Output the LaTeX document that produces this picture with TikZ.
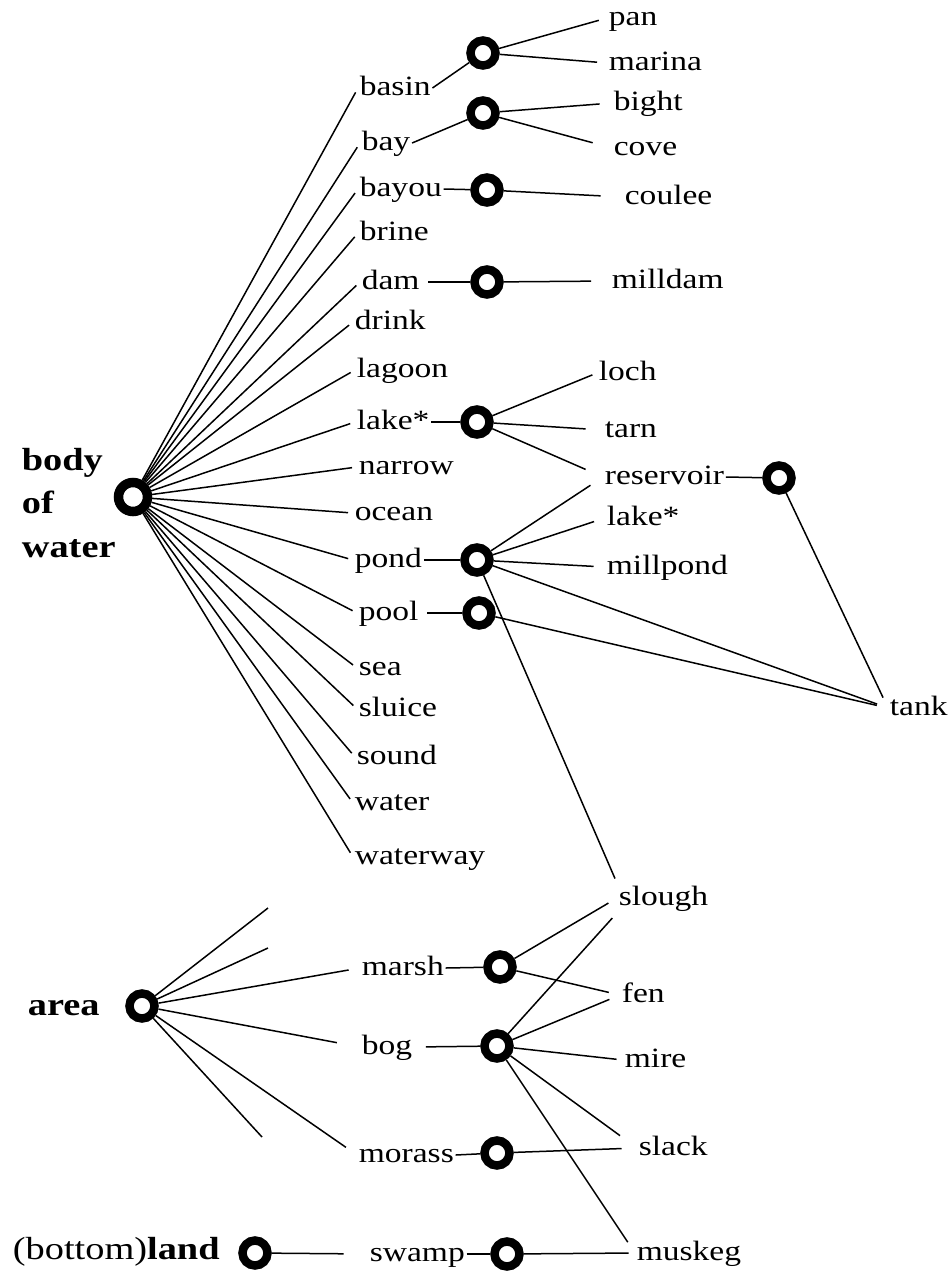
\documentclass[tikz,border=0pt]{standalone}
\usepackage{fontspec}
\setmainfont{Liberation Serif}[FakeStretch=1.2]
\begin{document}
\begin{tikzpicture}[x=0.02cm,y=-0.02cm,
    word/.style={anchor=west,inner sep=0.03cm,text height=0.4cm,text depth=0.12cm,font=\fontsize{15.9}{19}\selectfont},
    title/.style={anchor=west,inner sep=0.03cm,align=left,font=\bfseries\fontsize{18.2}{24.75}\selectfont},
    hub/.style={circle,draw,line width=0.17cm,minimum size=0.5cm,inner sep=0pt},
    wire/.style={line width=0.03cm},
    link/.style={wire,shorten >=0.1cm},
    feed/.style={wire,shorten >=#1},feed/.default=0.2cm]
      \pgfmathsetmacro{\W}{951}
      \pgfmathsetmacro{\H}{1279}
      \fill[white] (0,0) rectangle (\W,\H);
      % body of water
      \node[title] (bwtext) at (20,503) {body\\of\\water};
      \node[hub,minimum size=0.58cm,line width=0.19cm] (bw) at (133,497) {};
      \node[word] (basin) at (358,88) {basin};
      \node[word] (bay) at (360,143) {bay};
      \node[word] (bayou) at (358,189) {bayou};
      \node[word] (brine) at (358,233) {brine};
      \node[word] (dam) at (360,282) {dam};
      \node[word] (drink) at (353,322) {drink};
      \node[word] (lagoon) at (355,370) {lagoon};
      \node[word] (lakeA) at (355,422) {lake*};
      \node[word] (narrow) at (357,467) {narrow};
      \node[word] (ocean) at (353,513) {ocean};
      \node[word] (pond) at (353,560) {pond};
      \node[word] (pool) at (357,613) {pool};
      \node[word] (sea) at (357,668) {sea};
      \node[word] (sluice) at (357,709) {sluice};
      \node[word] (sound) at (355,757) {sound};
      \node[word] (water) at (353,803) {water};
      \node[word] (waterway) at (353,857) {waterway};
      \foreach \w in {basin,bay,bayou,brine,dam,drink,lagoon,lakeA,narrow,ocean,pond,pool,sea,sluice,sound,water,waterway}
        \draw[link] (bw) -- (\w.west);
      % second level
      \node[hub] (hbasin) at (483,53) {};
      \node[hub] (hbay) at (483,113) {};
      \node[hub] (hbayou) at (487,190) {};
      \node[hub] (hdam) at (487,282) {};
      \node[hub] (hlake) at (477,422) {};
      \node[hub] (hres) at (779,478) {};
      \node[hub] (hpond) at (477,560) {};
      \node[hub] (hpool) at (479,613) {};
      \node[word] (pan) at (607,18) {pan};
      \node[word] (marina) at (607,63) {marina};
      \node[word] (bight) at (612,103) {bight};
      \node[word] (cove) at (612,148) {cove};
      \node[word] (coulee) at (623,197) {coulee};
      \node[word] (milldam) at (610,281) {milldam};
      \node[word] (loch) at (597,373) {loch};
      \node[word] (tarn) at (603,430) {tarn};
      \node[word] (reservoir) at (603,477) {reservoir};
      \node[word] (lakeB) at (605,518) {lake*};
      \node[word] (millpond) at (605,567) {millpond};
      \node[word] (tank) at (888,708) {tank};
      \draw[wire] (basin.east) -- (hbasin);
      \draw[wire] (bay.east) -- (hbay);
      \draw[wire] (bayou.east) -- (hbayou);
      \draw[wire,shorten <=0.14cm] (dam.east) -- (hdam);
      \draw[wire] (lakeA.east) -- (hlake);
      \draw[wire] (pond.east) -- (hpond);
      \draw[wire,shorten <=0.14cm] (pool.east) -- (hpool);
      \draw[wire] (reservoir.east) -- (hres);
      \draw[feed=0.17cm] (hbasin) -- (pan.west);
      \draw[feed] (hbasin) -- (marina.west);
      \draw[feed=0.25cm] (hbay) -- (bight.west);
      \draw[feed=0.4cm] (hbay) -- (cove.west);
      \draw[feed=0.45cm] (hbayou) -- (coulee.west);
      \draw[feed=0.38cm] (hdam) -- (milldam.west);
      \draw[link] (hlake) -- (loch.west);
      \draw[feed=0.35cm] (hlake) -- (tarn.west);
      \draw[feed=0.38cm] (hlake) -- (reservoir.west);
      \draw[feed=0.3cm] (hpond) -- (reservoir.west);
      \draw[feed=0.23cm] (hpond) -- (lakeB.west);
      \draw[feed=0.23cm] (hpond) -- (millpond.west);
      \draw[feed=0.23cm] (hpond) -- (tank.west);
      \draw[feed=0.23cm] (hpool) -- (tank.west);
      \draw[feed=0.23cm] (hres) -- (tank.west);
      % area
      \node[title] (areatext) at (26,1008) {area};
      \node[hub] (ha) at (142,1006) {};
      \coordinate (a1) at (268,908);
      \coordinate (a2) at (268,948);
      \coordinate (a3) at (262,1137);
      \node[word] (marsh) at (360,968) {marsh};
      \node[word] (bog) at (360,1047) {bog};
      \node[word] (morass) at (357,1155) {morass};
      \node[word] (swamp) at (368,1254) {swamp};
      \node[word] (slough) at (617,898) {slough};
      \node[word] (fen) at (620,995) {fen};
      \node[word] (mire) at (623,1060) {mire};
      \node[word] (slack) at (637,1148) {slack};
      \node[word] (muskeg) at (635,1253) {muskeg};
      \node[hub] (hmarsh) at (500,967) {};
      \node[hub] (hbog) at (497,1046) {};
      \node[hub] (hmorass) at (497,1153) {};
      \node[hub] (hswamp) at (507,1254) {};
      \draw[wire] (ha) -- (a1);
      \draw[wire] (ha) -- (a2);
      \draw[wire] (ha) -- (a3);
      \draw[feed=0.23cm] (ha) -- (marsh.west);
      \draw[feed=0.47cm] (ha) -- (bog.west);
      \draw[feed=0.27cm] (ha) -- (morass.west);
      \draw[wire] (marsh.east) -- (hmarsh);
      \draw[wire,shorten <=0.24cm] (bog.east) -- (hbog);
      \draw[wire] (morass.east) -- (hmorass);
      \draw[wire] (swamp.east) -- (hswamp);
      \draw[link] (hpond) -- (slough.north west);
      \draw[feed] (hmarsh) -- (slough.west);
      \draw[feed=0.23cm] (hmarsh) -- (fen.west);
      \draw[feed=0.14cm] (hbog) -- (slough.south west);
      \draw[feed=0.23cm] (hbog) -- (fen.west);
      \draw[feed=0.13cm] (hbog) -- (mire.west);
      \draw[feed=0.42cm] (hbog) -- (slack.west);
      \draw[feed=0.26cm] (hbog) -- (muskeg.west);
      \draw[feed=0.31cm] (hmorass) -- (slack.west);
      \draw[feed=0.13cm] (hswamp) -- (muskeg.west);
      % (bottom)land
      \node[anchor=west,inner sep=0.03cm,font=\fontsize{18.2}{20}\selectfont] (land) at (11,1252) {(bottom)\textbf{land}};
      \node[hub] (hland) at (255,1253) {};
      \draw[feed=0.49cm] (hland) -- (swamp.west);
\end{tikzpicture}
\end{document}
